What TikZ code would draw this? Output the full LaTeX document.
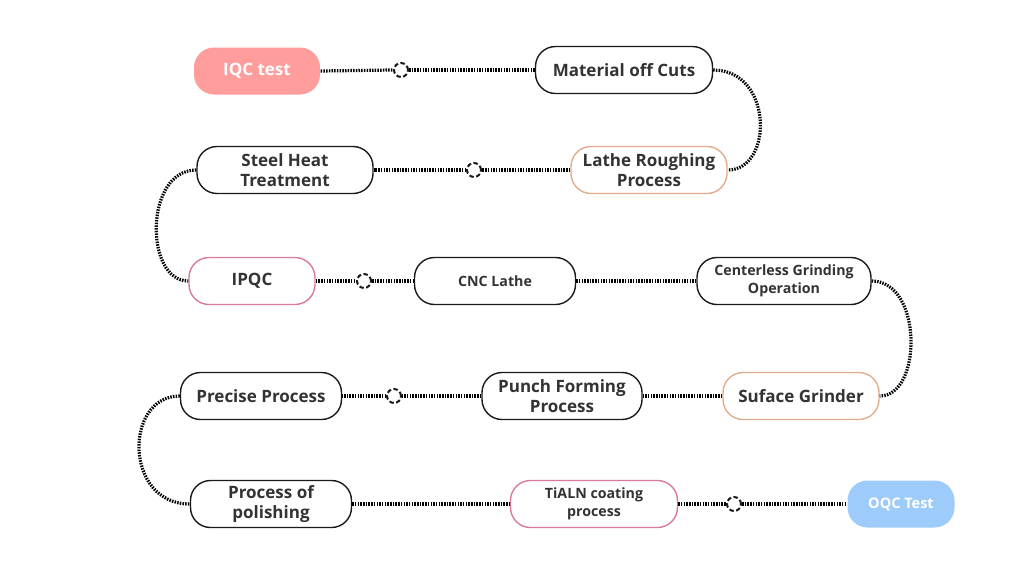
\documentclass[tikz,border=0pt]{standalone}
\usepackage{fontspec}
\setmainfont{Open Sans}
\definecolor{txt}{HTML}{333333}
\definecolor{iqcfill}{HTML}{FF9D9D}
\definecolor{oqcfill}{HTML}{9ECCFA}
\definecolor{orangeb}{HTML}{E4AC8C}
\definecolor{pinkb}{HTML}{D87C96}
\definecolor{lineb}{HTML}{1A1A1A}
\begin{document}
\begin{tikzpicture}[x=1pt,y=-1pt,
  box/.style={draw=lineb, line width=1.4pt, rounded corners=20pt, fill=white,
    minimum height=47pt, inner sep=2pt, align=center, text=txt,
    font=\fontsize{17}{20.5}\selectfont\bfseries},
  smallbox/.style={box, font=\fontsize{14.2}{17.5}\selectfont\bfseries},
  marker/.style={circle, draw=lineb, line width=2pt, dash pattern=on 4.5pt off 2.5pt,
    minimum size=14pt, inner sep=0pt},
  conn/.style={draw=black, line width=3.2pt, dash pattern=on 1.5pt off 1.2pt}]
\useasboundingbox (0,0) rectangle (1024,576);
% nodes
\node[box, draw=none, fill=iqcfill, text=white, minimum width=126pt] (iqc) at (257,71) {IQC test};
\node[box, minimum width=177pt] (mat) at (624,70) {Material off Cuts};
\node[box, draw=orangeb, minimum width=156pt] (lathe) at (649,170) {Lathe Roughing\\Process};
\node[box, minimum width=176pt] (steel) at (285,170) {Steel Heat\\Treatment};
\node[box, draw=pinkb, minimum width=126pt] (ipqc) at (252,281) {IPQC};
\node[smallbox, minimum width=161pt] (cnc) at (495,281) {CNC Lathe};
\node[smallbox, minimum width=174pt] (cgo) at (784,281) {Centerless Grinding\\Operation};
\node[box, draw=orangeb, minimum width=156pt] (suf) at (801,396) {Suface Grinder};
\node[box, minimum width=160pt] (punch) at (562,396) {Punch Forming\\Process};
\node[box, minimum width=161pt] (prec) at (261,396) {Precise Process};
\node[box, minimum width=161pt] (pol) at (271,504) {Process of\\polishing};
\node[smallbox, draw=pinkb, minimum width=167pt] (tialn) at (594,504) {TiALN coating\\process};
\node[smallbox, draw=none, fill=oqcfill, text=white, minimum width=107pt, font=\fontsize{14.5}{17.5}\selectfont\bfseries] (oqc) at (901,504) {OQC Test};
% markers
\node[marker] (m1) at (401,70) {};
\node[marker] (m2) at (474,170) {};
\node[marker] (m3) at (364,281) {};
\node[marker] (m4) at (394,396) {};
\node[marker] (m5) at (734,504) {};
% connectors
\path[conn] (iqc.east) -- (m1.west);
\path[conn] (m1.east) -- (mat.west);
\path[conn] (mat.east) .. controls +(60,0) and +(46,0) .. (lathe.east);
\path[conn] (lathe.west) -- (m2.east);
\path[conn] (m2.west) -- (steel.east);
\path[conn] (steel.west) .. controls +(-52,0) and +(-44,0) .. (ipqc.west);
\path[conn] (ipqc.east) -- (m3.west);
\path[conn] (m3.east) -- (cnc.west);
\path[conn] (cnc.east) -- (cgo.west);
\path[conn] (cgo.east) .. controls +(51,0) and +(43,0) .. (suf.east);
\path[conn] (suf.west) -- (punch.east);
\path[conn] (punch.west) -- (m4.east);
\path[conn] (m4.west) -- (prec.east);
\path[conn] (prec.west) .. controls +(-56,0) and +(-66,0) .. (pol.west);
\path[conn] (pol.east) -- (tialn.west);
\path[conn] (tialn.east) -- (m5.west);
\path[conn] (m5.east) -- (oqc.west);
\end{tikzpicture}
\end{document}
